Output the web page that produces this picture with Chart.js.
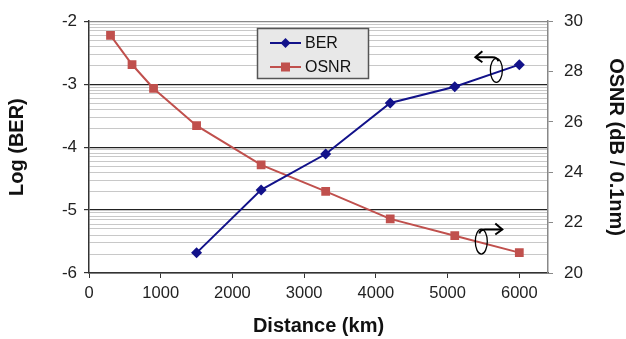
<!DOCTYPE html>
<html>
<head>
<meta charset="utf-8">
<script src="https://cdn.jsdelivr.net/npm/chart.js@4"></script>
<style>
  html, body { margin: 0; padding: 0; background: #fff; }
  #wrap { width: 626px; height: 339px; }
</style>
</head>
<body>
<div id="wrap"><canvas id="myChart" width="626" height="339"></canvas></div>
<script>
// distance (km) for each series
var berDist = [1500, 2400, 3300, 4200, 5100, 6000];
var berVals = [-5.68, -4.68, -4.11, -3.30, -3.04, -2.69];
var osnrDist = [300, 600, 900, 1500, 2400, 3300, 4200, 5100, 6000];
var osnrVals = [29.44, 28.28, 27.33, 25.85, 24.29, 23.24, 22.15, 21.48, 20.81];

var xTicks = [0, 1000, 2000, 3000, 4000, 5000, 6000];
var berMajor = [-6, -5, -4, -3, -2];
var osnrTicks = [20, 22, 24, 26, 28, 30];

// log(BER) axis: major decades plus minor log lines inside each decade
var berTicks = [];
for (var d = -6; d < -2; d++) {
  berTicks.push(d);
  for (var m = 2; m <= 9; m++) berTicks.push(d + Math.log10(m));
}
berTicks.push(-2);

function isMajor(v) {
  return Math.abs(v - Math.round(v)) < 1e-6;
}

var font = "'Liberation Sans', Arial, sans-serif";

var toPts = function(xs, ys) {
  return xs.map(function(x, i) { return { x: x, y: ys[i] }; });
};

// legend box and the two "which axis" arrows
var extras = {
  id: 'extras',
  afterDatasetsDraw: function(chart) {
    var ctx = chart.ctx;
    var xs = chart.scales.x, yl = chart.scales.y, yr = chart.scales.y2;
    ctx.save();

    // arrow pointing to left axis
    var ex = xs.getPixelForValue(5680), ey = yl.getPixelForValue(-2.78);
    ctx.strokeStyle = '#000';
    ctx.lineWidth = 1.3;
    ctx.beginPath();
    ctx.ellipse(ex, ey, 6, 12, 0, 0, Math.PI * 2);
    ctx.stroke();
    ctx.lineWidth = 2;
    ctx.beginPath();
    ctx.moveTo(ex + 2, ey - 9);
    ctx.quadraticCurveTo(ex + 1, ey - 13, ex - 4, ey - 13);
    ctx.lineTo(ex - 21, ey - 13);
    ctx.stroke();
    ctx.beginPath();
    ctx.moveTo(ex - 14, ey - 19);
    ctx.lineTo(ex - 21, ey - 13);
    ctx.lineTo(ex - 14, ey - 8);
    ctx.stroke();

    // arrow pointing to right axis
    var fx = xs.getPixelForValue(5470), fy = yr.getPixelForValue(21.25);
    ctx.lineWidth = 1.3;
    ctx.beginPath();
    ctx.ellipse(fx, fy, 6, 12.5, 0, 0, Math.PI * 2);
    ctx.stroke();
    ctx.lineWidth = 2;
    ctx.beginPath();
    ctx.moveTo(fx - 2, fy - 8);
    ctx.quadraticCurveTo(fx - 1, fy - 12, fx + 4, fy - 12);
    ctx.lineTo(fx + 21, fy - 12);
    ctx.stroke();
    ctx.beginPath();
    ctx.moveTo(fx + 14, fy - 18);
    ctx.lineTo(fx + 21, fy - 12);
    ctx.lineTo(fx + 14, fy - 7);
    ctx.stroke();

    // legend
    var lx = 257, ly = 28, lw = 112, lh = 51;
    ctx.fillStyle = '#e8e8e8';
    ctx.fillRect(lx, ly, lw, lh);
    ctx.strokeStyle = '#555';
    ctx.lineWidth = 1.5;
    ctx.strokeRect(lx + 0.5, ly + 0.5, lw - 1, lh - 1);
    var items = chart.data.datasets;
    ctx.font = '16px ' + font;
    ctx.textBaseline = 'middle';
    for (var i = 0; i < items.length; i++) {
      var yy = ly + 15 + i * 24;
      ctx.strokeStyle = items[i].borderColor;
      ctx.lineWidth = 2;
      ctx.beginPath();
      ctx.moveTo(lx + 13, yy);
      ctx.lineTo(lx + 44, yy);
      ctx.stroke();
      ctx.fillStyle = items[i].borderColor;
      ctx.beginPath();
      if (items[i].pointStyle === 'rectRot') {
        ctx.moveTo(lx + 28.5, yy - 5);
        ctx.lineTo(lx + 33.5, yy);
        ctx.lineTo(lx + 28.5, yy + 5);
        ctx.lineTo(lx + 23.5, yy);
        ctx.closePath();
      } else {
        ctx.rect(lx + 24, yy - 4.5, 9, 9);
      }
      ctx.fill();
      ctx.fillStyle = '#111';
      ctx.fillText(items[i].label, lx + 48, yy + 1);
    }
    ctx.restore();
  }
};

var ctx = document.getElementById('myChart').getContext('2d');
var myChart = new Chart(ctx, {
  type: 'line',
  data: {
    datasets: [
      {
        label: 'BER',
        data: toPts(berDist, berVals),
        yAxisID: 'y',
        borderColor: '#12128a',
        backgroundColor: '#12128a',
        borderWidth: 2,
        pointStyle: 'rectRot',
        pointRadius: 5.5,
        pointBorderWidth: 0,
        tension: 0
      },
      {
        label: 'OSNR',
        data: toPts(osnrDist, osnrVals),
        yAxisID: 'y2',
        borderColor: '#c0504d',
        backgroundColor: '#c0504d',
        borderWidth: 2,
        pointStyle: 'rect',
        pointRadius: 6.2,
        pointBorderWidth: 0,
        tension: 0
      }
    ]
  },
  options: {
    responsive: false,
    animation: false,
    layout: { padding: { top: 19, left: 0, right: 0, bottom: 0 } },
    plugins: { legend: { display: false }, tooltip: { enabled: false } },
    scales: {
      x: {
        type: 'linear',
        min: 0,
        max: 6400,
        afterBuildTicks: function(s) { s.ticks = xTicks.map(function(v) { return { value: v }; }); },
        afterFit: function(s) { s.height = 66; },
        grid: { drawOnChartArea: false, tickLength: 5, color: '#333', tickColor: '#333' },
        border: { color: '#333', width: 1.5 },
        ticks: {
          font: { family: font, size: 16.5 }, color: '#222', padding: 6, maxRotation: 0, autoSkip: false,
          callback: function(v) { return String(v); }
        },
        title: { display: true, text: 'Distance (km)', font: { family: font, size: 20, weight: 'bold', lineHeight: 1.1 }, color: '#111', padding: { top: 0, bottom: 2 } }
      },
      y: {
        position: 'left',
        min: -6,
        max: -2,
        afterBuildTicks: function(s) { s.ticks = berTicks.map(function(v) { return { value: v }; }); },
        afterFit: function(s) { s.width = 89; },
        grid: {
          tickLength: 5,
          color: function(c) {
            var v = c.tick.value;
            if (v === -2) return '#888';
            if (v === -6) return '#333';
            return isMajor(v) ? '#222' : '#c8c8c8';
          },
          lineWidth: function(c) { return isMajor(c.tick.value) ? 1.2 : 1; },
          tickColor: function(c) { return isMajor(c.tick.value) ? '#333' : 'rgba(0,0,0,0)'; }
        },
        border: { color: '#333', width: 1.5 },
        ticks: {
          autoSkip: false,
          font: { family: font, size: 17 },
          color: '#222',
          padding: 7,
          callback: function(v) { return isMajor(v) && berMajor.indexOf(Math.round(v)) >= 0 ? String(Math.round(v)) : ''; }
        },
        title: { display: true, text: 'Log (BER)', font: { family: font, size: 20, weight: 'bold', lineHeight: 1.1 }, color: '#111', padding: { top: 6.5 } }
      },
      y2: {
        position: 'right',
        min: 20,
        max: 30,
        afterBuildTicks: function(s) { s.ticks = osnrTicks.map(function(v) { return { value: v }; }); },
        afterFit: function(s) { s.width = 78; },
        grid: { drawOnChartArea: false, tickLength: 5, tickColor: '#888' },
        border: { color: '#888', width: 1.5 },
        ticks: { font: { family: font, size: 17 }, color: '#222', padding: 11 },
        title: { display: true, text: 'OSNR (dB / 0.1nm)', font: { family: font, size: 20, weight: 'bold', lineHeight: 1.0 }, color: '#111', padding: { top: 0 } }
      }
    }
  },
  plugins: [extras]
});
</script>
</body>
</html>
